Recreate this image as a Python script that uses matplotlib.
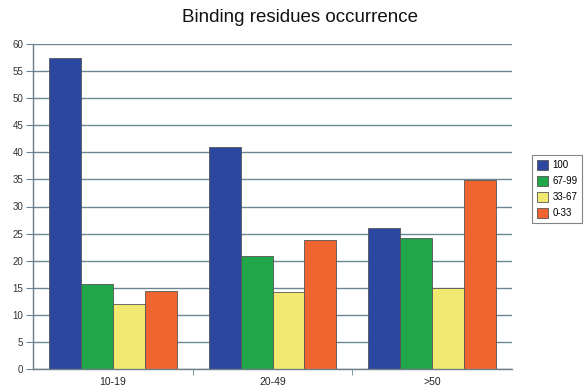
import matplotlib
matplotlib.use("Agg")
import matplotlib.pyplot as plt
import numpy as np

categories = ["10-19", "20-49", ">50"]
series_labels = ["100", "67-99", "33-67", "0-33"]
values_100 = [57.4, 40.9, 26.0]
values_67_99 = [15.7, 20.9, 24.2]
values_33_67 = [12.0, 14.3, 15.0]
values_0_33 = [14.4, 23.8, 34.9]
yticks = [0, 5, 10, 15, 20, 25, 30, 35, 40, 45, 50, 55, 60]

colors = ["#2b47a0", "#22a64a", "#f2ea70", "#f0652f"]
series = [values_100, values_67_99, values_33_67, values_0_33]

plt.rcParams['font.family'] = ['Liberation Sans', 'DejaVu Sans']
fig = plt.figure(figsize=(5.84, 3.92), dpi=100)
ax = fig.add_axes([33/584, 1-369/392, (512-33)/584, (369-44)/392])

x = np.arange(len(categories))
bw = 0.2
grid_c = "#6c8794"
for yv in yticks:
    ax.axhline(yv, color=grid_c, lw=1.0, zorder=0.5)

for i, (vals, c, lab) in enumerate(zip(series, colors, series_labels)):
    ax.bar(x + (i - 1.5) * bw, vals, width=bw, color=c, edgecolor="#555555",
           linewidth=0.6, label=lab, zorder=2)

ax.set_xlim(-0.5, 2.5)
ax.set_ylim(0, 60)
ax.set_yticks(yticks)
ax.set_yticklabels([str(v) for v in yticks], fontsize=7, color="#333333")
ax.set_xticks(x)
ax.set_xticklabels(categories, fontsize=7.5, color="#222222")
ax.set_xticks([0.5, 1.5], minor=True)
ax.tick_params(axis='x', which='major', length=0, pad=6)
ax.tick_params(axis='x', which='minor', length=4, color=grid_c, direction='out')
ax.tick_params(axis='y', length=5, color=grid_c, direction='out', pad=2)
for s in ["top", "right"]:
    ax.spines[s].set_visible(False)
for s in ["left", "bottom"]:
    ax.spines[s].set_color("#6e7f88")
    ax.spines[s].set_linewidth(1.0)

fig.text(300/584, 1-18/392, "Binding residues occurrence", ha="center", va="center",
         fontsize=13.5, color="#111111")

leg = fig.legend(loc="center", bbox_to_anchor=(557/584, 1-189/392), fontsize=7,
                 frameon=True, fancybox=False, edgecolor="#666666",
                 handlelength=1.2, handleheight=1.3, handletextpad=0.4,
                 borderpad=0.45, labelspacing=0.55)
leg.get_frame().set_linewidth(0.8)

fig.savefig("out.png", dpi=100)
